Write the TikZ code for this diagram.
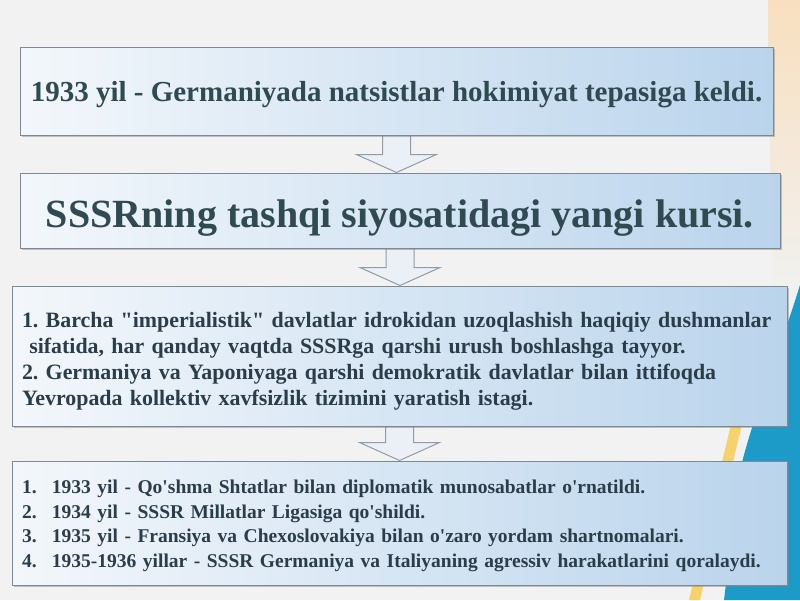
\documentclass[tikz,border=0pt]{standalone}
\usepackage{fontspec}
\setmainfont{Liberation Serif}
\usetikzlibrary{calc,shadows}
\frenchspacing

\definecolor{bg}{HTML}{F1F2F1}
\definecolor{boxL}{HTML}{F3F7FB}
\definecolor{boxR}{HTML}{BAD4EC}
\definecolor{edge}{HTML}{7D8A96}
\definecolor{ink}{HTML}{2F4A50}
\definecolor{ink2}{HTML}{2A3D48}
\definecolor{arrowL}{HTML}{EAF0F6}
\definecolor{sea}{HTML}{1C9BC9}
\definecolor{sun}{HTML}{F6D36A}
\definecolor{peach}{HTML}{F8DFBF}

\pgfdeclarelayer{back}
\pgfdeclarelayer{mid}
\pgfsetlayers{back,mid,main}

\tikzset{
  panel/.style={draw=edge, line width=1pt, left color=boxL, right color=boxR,
    drop shadow={shadow xshift=2pt, shadow yshift=-2pt, fill=black!50, opacity=0.45},
    inner sep=0pt},
  downarrow/.style={draw=edge!85, line width=1pt, fill=arrowL, line join=miter},
}

\newcommand{\ap}{\textquotesingle}
\newcommand{\num}[1]{\makebox[30pt][l]{#1}}

% block arrow from the bottom of one panel to the top of the next
\newcommand{\blockArrow}[2]%
{ \draw[downarrow] let \p1=(#1.south), \p2=(#2.north) in
    (\x1-14pt,\y1) -- (\x1-14pt,\y2+18pt) -- (\x1-40pt,\y2+18pt) -- (\x1,\y2)
    -- (\x1+40pt,\y2+18pt) -- (\x1+14pt,\y2+18pt) -- (\x1+14pt,\y1) -- cycle;
}

\begin{document}
\begin{tikzpicture}[x=1pt,y=-1pt]

\useasboundingbox (0,0) rectangle (800,600);

\begin{pgfonlayer}{back}
  \fill[bg] (0,0) rectangle (800,600);
  \shade[top color=peach, bottom color=bg] (768,0) -- (800,0) -- (800,300) -- (772,300) -- cycle;% top right glow
  \fill[sun] (744,370) -- (755,370) -- (700,600) -- (689,600) -- cycle;% yellow stripe
  \fill[sea] (800,285) .. controls (780,350) and (755,410) .. (740,470) -- (724,600) -- (800,600) -- cycle;% blue swoosh
\end{pgfonlayer}

\node[panel, text=ink, minimum width=753, minimum height=88, text height=21.5, text depth=0,
      font=\bfseries\fontsize{29}{34}\selectfont] (event) at (396.5,91)
  {1933 yil - Germaniyada natsistlar hokimiyat tepasiga keldi.};

\node[panel, text=ink, minimum width=760, minimum height=75, text height=33, text depth=0,
      font=\bfseries\fontsize{40}{46}\selectfont] (course) at (400,210.5)
  {SSSRning tashqi siyosatidagi yangi kursi.};

\node[panel, text=ink2, minimum width=775, minimum height=140, text width=755,
      align=left, font=\bfseries\fontsize{21.9}{26}\selectfont] (aims) at (399.5,356)
  {\mbox{\rule{0pt}{26pt}1. Barcha \textquotedbl imperialistik\textquotedbl\ davlatlar idrokidan uzoqlashish haqiqiy dushmanlar}\\
   \mbox{\ sifatida, har qanday vaqtda SSSRga qarshi urush boshlashga tayyor.}\\
   \mbox{2. Germaniya va Yaponiyaga qarshi demokratik davlatlar bilan ittifoqda}\\
   \mbox{Yevropada kollektiv xavfsizlik tizimini yaratish istagi.}};

\node[panel, text=ink2, minimum width=775, minimum height=124, text width=755,
      align=left, font=\bfseries\fontsize{19.5}{24.7}\selectfont] (steps) at (399.5,523)
  {\mbox{\rule{0pt}{19pt}\num{1.}1933 yil - Qo\ap shma Shtatlar bilan diplomatik munosabatlar o\ap rnatildi.}\\
   \mbox{\num{2.}1934 yil - SSSR Millatlar Ligasiga qo\ap shildi.}\\
   \mbox{\num{3.}1935 yil - Fransiya va Chexoslovakiya bilan o\ap zaro yordam shartnomalari.}\\
   \mbox{\num{4.}1935-1936 yillar - SSSR Germaniya va Italiyaning agressiv harakatlarini qoralaydi.}};

\begin{pgfonlayer}{mid}
  \blockArrow{event}{course}
  \blockArrow{course}{aims}
  \blockArrow{aims}{steps}
\end{pgfonlayer}

\end{tikzpicture}
\end{document}
